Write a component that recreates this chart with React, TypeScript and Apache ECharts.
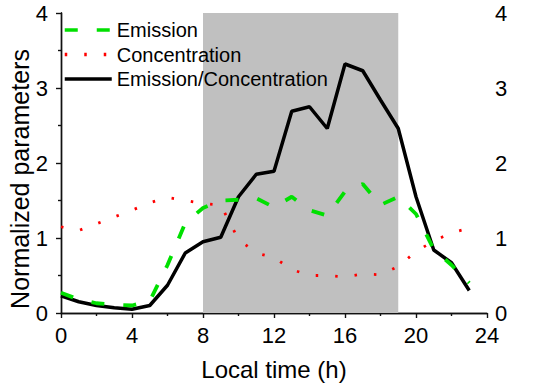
import React, { useEffect, useRef } from "react";
import * as echarts from "echarts";

const hours = [0, 1, 2, 3, 4, 5, 6, 7, 8, 9, 10, 11, 12, 13, 14, 15, 16, 17, 18, 19, 20, 21, 22, 23];
const emission = [0.27, 0.18, 0.13, 0.11, 0.1, 0.16, 0.64, 1.2, 1.4, 1.5, 1.51, 1.53, 1.41, 1.55, 1.37, 1.3, 1.62, 1.72, 1.44, 1.55, 1.32, 0.85, 0.64, 0.4];
const concentration = [1.15, 1.1, 1.19, 1.28, 1.37, 1.47, 1.54, 1.5, 1.46, 1.44, 0.98, 0.8, 0.74, 0.58, 0.5, 0.5, 0.48, 0.52, 0.51, 0.62, 0.82, 0.96, 1.07, 1.13];
const ratio = [0.23, 0.15, 0.1, 0.07, 0.05, 0.1, 0.37, 0.8, 0.95, 1.01, 1.55, 1.85, 1.89, 2.69, 2.75, 2.46, 3.32, 3.23, 2.84, 2.46, 1.55, 0.84, 0.67, 0.3];
const shadeRange = [8, 19];
const seriesNames = ["Emission", "Concentration", "Emission/Concentration"];
const xTitle = "Local time (h)";
const yTitle = "Normalized parameters";

const FONT = "Liberation Sans, Arial, sans-serif";
const AXIS_COLOR = "#111";

export default function App() {
  const ref = useRef<HTMLDivElement>(null);
  useEffect(() => {
    if (!ref.current) return;
    const chart = echarts.init(ref.current, undefined, { renderer: "svg" });
    const pair = (arr: number[]) => hours.map((h, i) => [h, arr[i]]);
    const axisLine = { show: true, lineStyle: { color: AXIS_COLOR, width: 1.4 } };
    const tickStyle = { color: AXIS_COLOR, width: 1.2 };
    chart.setOption({
      animation: false,
      backgroundColor: "#fff",
      grid: { left: 61, right: 46, top: 13, bottom: 76, containLabel: false },
      legend: {
        data: seriesNames,
        left: 63,
        top: 20,
        padding: 0,
        orient: "vertical",
        itemWidth: 47,
        itemHeight: 14,
        itemGap: 4.5,
        itemStyle: { opacity: 0 },
        lineStyle: { width: 3.5 },
        textStyle: { fontFamily: FONT, fontSize: 20, color: "#000", lineHeight: 20 },
      },
      graphic: [
        {
          type: "text",
          x: 20,
          y: 179,
          rotation: Math.PI / 2,
          style: {
            text: yTitle,
            fontFamily: FONT,
            fontSize: 25,
            fill: "#000",
            align: "center",
            verticalAlign: "middle",
          },
        },
      ],
      xAxis: [
        {
          type: "value",
          position: "bottom",
          min: 0,
          max: 24,
          interval: 4,
          name: xTitle,
          nameLocation: "middle",
          nameGap: 44,
          nameTextStyle: { fontFamily: FONT, fontSize: 24, color: "#000" },
          axisLine,
          axisTick: { show: true, inside: false, length: 5, lineStyle: tickStyle },
          minorTick: { show: true, splitNumber: 2, length: 3, lineStyle: tickStyle },
          axisLabel: { fontFamily: FONT, fontSize: 22, color: "#000", margin: 11 },
          splitLine: { show: false },
        },
        {
          type: "value",
          position: "top",
          min: 0,
          max: 24,
          interval: 4,
          axisLine,
          axisTick: { show: true, inside: true, length: 5, lineStyle: tickStyle },
          minorTick: { show: true, splitNumber: 2, length: 3, lineStyle: tickStyle },
          axisLabel: { show: false },
          splitLine: { show: false },
        },
      ],
      yAxis: [
        {
          type: "value",
          position: "left",
          min: 0,
          max: 4,
          interval: 1,
          axisLine,
          axisTick: { show: true, inside: false, length: 5, lineStyle: tickStyle },
          minorTick: { show: true, splitNumber: 2, length: 3, lineStyle: tickStyle },
          axisLabel: { fontFamily: FONT, fontSize: 22, color: "#000", margin: 13 },
          splitLine: { show: false },
        },
        {
          type: "value",
          position: "right",
          min: 0,
          max: 4,
          interval: 1,
          axisLine,
          axisTick: { show: true, inside: true, length: 5, lineStyle: tickStyle },
          minorTick: { show: true, splitNumber: 2, length: 3, lineStyle: tickStyle },
          axisLabel: { fontFamily: FONT, fontSize: 22, color: "#000", margin: 8 },
          splitLine: { show: false },
        },
      ],
      series: [
        {
          name: "shade",
          type: "line",
          data: [],
          z: 1,
          silent: true,
          markArea: {
            silent: true,
            itemStyle: { color: "#c0c0c0" },
            data: [[{ xAxis: shadeRange[0] }, { xAxis: shadeRange[1] }]],
          },
        },
        {
          name: seriesNames[2],
          type: "line",
          data: pair(ratio),
          z: 3,
          symbol: "none",
          lineStyle: { color: "#000", width: 3.5 },
          itemStyle: { color: "#000" },
        },
        {
          name: seriesNames[1],
          type: "line",
          data: pair(concentration),
          z: 4,
          symbol: "none",
          lineStyle: { color: "#ff0000", width: 2.8, type: [2.5, 17], cap: "butt" },
          itemStyle: { color: "#ff0000" },
        },
        {
          name: seriesNames[0],
          type: "line",
          data: pair(emission),
          z: 5,
          symbol: "none",
          lineStyle: { color: "#00e000", width: 3.8, type: [13, 19], cap: "butt" },
          itemStyle: { color: "#00e000" },
        },
      ],
    });
    return () => chart.dispose();
  }, []);
  return (
    <div
      ref={ref}
      style={{ position: "absolute", left: 0, top: 0, width: 533, height: 389, background: "#fff" }}
    />
  );
}
